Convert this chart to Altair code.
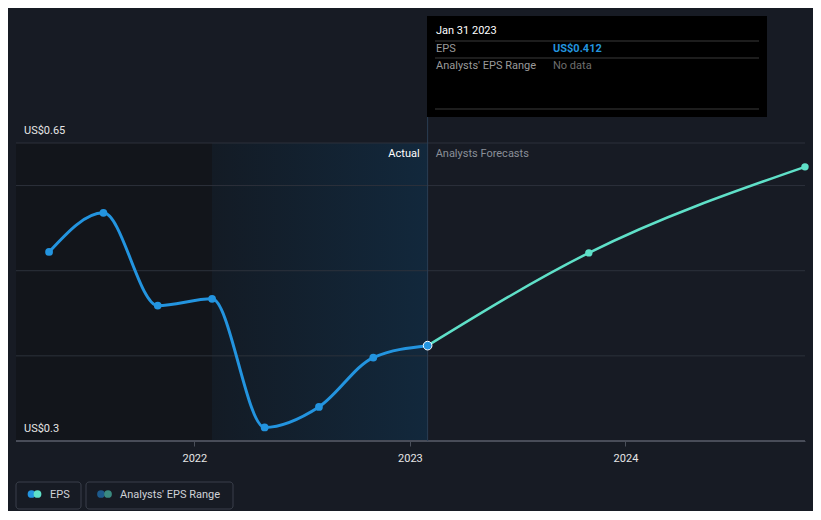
import altair as alt
import pandas as pd

# ---- data ----
actual_dates = ["2021-04-30", "2021-07-31", "2021-10-31", "2022-01-31",
                "2022-04-30", "2022-07-31", "2022-10-31", "2023-01-31"]
actual_eps = [0.522, 0.568, 0.459, 0.467, 0.316, 0.340, 0.398, 0.412]
forecast_dates = ["2023-01-31", "2023-10-31", "2024-10-31"]
forecast_eps = [0.412, 0.521, 0.622]
grid_values = [0.3, 0.4, 0.5, 0.6, 0.65]
ylabel_values = [0.65, 0.3]
ylabel_texts = ["US$0.65", "US$0.3"]
past_start = "2022-01-31"
now_date = "2023-01-31"
x_start = "2021-03-05"
x_end = "2024-10-31"

BG = "#171b24"
BLUE = "#2394df"
TEAL = "#5fe0c8"
W, H = 789, 298

def dt(s):
    y, m, d = [int(v) for v in s.split("-")]
    return alt.DateTime(year=y, month=m, date=d, utc=True)

xs = alt.Scale(type="utc", domain=[dt(x_start), dt(x_end)])
ys = alt.Scale(domain=[0.3, 0.65], nice=False, zero=False)

actual_df = pd.DataFrame({"date": actual_dates, "eps": actual_eps})
forecast_df = pd.DataFrame({"date": forecast_dates, "eps": forecast_eps})
shade_df = pd.DataFrame({"a": [x_start], "b": [past_start], "c": [now_date]})
grid_df = pd.DataFrame({"v": grid_values})
ylab_df = pd.DataFrame({"v": ylabel_values, "t": ylabel_texts})
now_df = pd.DataFrame({"date": [now_date]})

xaxis = alt.Axis(format="%Y", formatType="utc", tickCount="year", title=None,
                 grid=False, domainColor="#4a4f5a", tickColor="#4a4f5a",
                 tickSize=5, labelColor="#e6e6e6", labelFontSize=11,
                 labelPadding=6, labelFont="Roboto")

dark = alt.Chart(shade_df).mark_rect(fill="#12151b").encode(
    x=alt.X("a:T", scale=xs, axis=xaxis), x2="b:T",
    y=alt.value(0), y2=alt.value(H))

shade = alt.Chart(shade_df).mark_rect(
    fill=alt.Gradient(gradient="linear",
                      stops=[alt.GradientStop(color="#131b25", offset=0),
                             alt.GradientStop(color="#12283c", offset=1)],
                      x1=0, x2=1, y1=0, y2=0)
).encode(x=alt.X("b:T", scale=xs), x2="c:T", y=alt.value(0), y2=alt.value(H))

grid = alt.Chart(grid_df).mark_rule(color="#2c313b", strokeWidth=1).encode(
    y=alt.Y("v:Q", scale=ys, axis=None), x=alt.value(0), x2=alt.value(W))

axisline = alt.Chart(grid_df).mark_rule(color="#4a4f5a").encode(
    y=alt.value(H), x=alt.value(0), x2=alt.value(W))

nowrule = alt.Chart(now_df).mark_rule(color="#2b3e54", strokeWidth=1).encode(
    x=alt.X("date:T", scale=xs), y=alt.value(-26), y2=alt.value(H))

ylabels = alt.Chart(ylab_df).mark_text(
    align="left", baseline="middle", dy=-12, fontSize=11, color="#e6e6e6",
    font="Roboto").encode(y=alt.Y("v:Q", scale=ys), x=alt.value(8), text="t:N")

actual_line = alt.Chart(actual_df).mark_line(
    interpolate="monotone", color=BLUE, strokeWidth=3).encode(
    x=alt.X("date:T", scale=xs), y=alt.Y("eps:Q", scale=ys))
actual_pts = alt.Chart(actual_df.iloc[:-1]).mark_circle(
    color=BLUE, size=60, opacity=1).encode(
    x=alt.X("date:T", scale=xs), y=alt.Y("eps:Q", scale=ys))

forecast_line = alt.Chart(forecast_df).mark_line(
    interpolate="monotone", color=TEAL, strokeWidth=2.5).encode(
    x=alt.X("date:T", scale=xs), y=alt.Y("eps:Q", scale=ys))
forecast_pts = alt.Chart(forecast_df.iloc[1:]).mark_circle(
    color=TEAL, size=55, opacity=1).encode(
    x=alt.X("date:T", scale=xs), y=alt.Y("eps:Q", scale=ys))
now_pt = alt.Chart(actual_df.iloc[-1:]).mark_point(
    filled=True, fill=BLUE, stroke="white", strokeWidth=1, size=75, opacity=1).encode(
    x=alt.X("date:T", scale=xs), y=alt.Y("eps:Q", scale=ys))

actual_txt = alt.Chart(now_df).mark_text(
    align="right", baseline="middle", dx=-8, fontSize=11, color="#ffffff",
    font="Roboto").encode(x=alt.X("date:T", scale=xs), y=alt.value(11),
                          text=alt.value("Actual"))
fc_txt = alt.Chart(now_df).mark_text(
    align="left", baseline="middle", dx=8, fontSize=11, color="#8a8f98",
    font="Roboto").encode(x=alt.X("date:T", scale=xs), y=alt.value(11),
                          text=alt.value("Analysts Forecasts"))

# ---- tooltip box ----
tip_box = alt.Chart(now_df).mark_rect(fill="#000000").encode(
    x=alt.value(411), x2=alt.value(751), y=alt.value(-127), y2=alt.value(-26))
tip_sep = [alt.Chart(now_df).mark_rule(color="#3a3a3a").encode(
    x=alt.value(419), x2=alt.value(743), y=alt.value(yy)) for yy in (-102, -85, -34)]
def tip_text(txt, x, y, color, weight="normal"):
    return alt.Chart(now_df).mark_text(
        align="left", baseline="middle", fontSize=11, color=color,
        fontWeight=weight, font="Roboto").encode(
        x=alt.value(x), y=alt.value(y), text=alt.value(txt))
tips = [
    tip_text("Jan 31 2023", 420, -112, "#ffffff"),
    tip_text("EPS", 420, -94, "#9a9a9a"),
    tip_text("US$0.412", 537, -94, BLUE, "bold"),
    tip_text("Analysts' EPS Range", 420, -77, "#9a9a9a"),
    tip_text("No data", 537, -77, "#6e6e6e"),
]

# ---- legend ----
leg_boxes = [alt.Chart(now_df).mark_rect(
    fill=BG, stroke="#3a3f4a", strokeWidth=1, cornerRadius=3).encode(
    x=alt.value(x0), x2=alt.value(x1), y=alt.value(339), y2=alt.value(366))
    for x0, x1 in ((0, 65), (70, 217))]
def dot(x, color):
    return alt.Chart(now_df).mark_circle(color=color, size=60, opacity=1).encode(
        x=alt.value(x), y=alt.value(351))
leg_dots = [dot(15.5, BLUE), dot(21.5, TEAL), dot(85, "#1d5a8c"), dot(92, "#3a8a80")]
leg_txt = [
    alt.Chart(now_df).mark_text(align="left", baseline="middle", fontSize=11,
                                color="#cfd2d8", font="Roboto").encode(
        x=alt.value(34), y=alt.value(352), text=alt.value("EPS")),
    alt.Chart(now_df).mark_text(align="left", baseline="middle", fontSize=11,
                                color="#cfd2d8", font="Roboto").encode(
        x=alt.value(104), y=alt.value(352), text=alt.value("Analysts' EPS Range")),
]

chart = alt.layer(
    dark, shade, grid, axisline, nowrule, ylabels,
    actual_line, forecast_line, actual_pts, forecast_pts, now_pt,
    actual_txt, fc_txt, tip_box, *tip_sep, *tips,
    *leg_boxes, *leg_dots, *leg_txt,
).properties(
    width=W, height=H,
    autosize=alt.AutoSizeParams(type="none"),
    padding={"left": 8, "top": 135, "right": 8, "bottom": 70},
    background=BG,
).configure_view(stroke=None).configure_axis(labelFont="Roboto")

chart.save("out.html", embed_options={"renderer": "svg", "actions": False})
